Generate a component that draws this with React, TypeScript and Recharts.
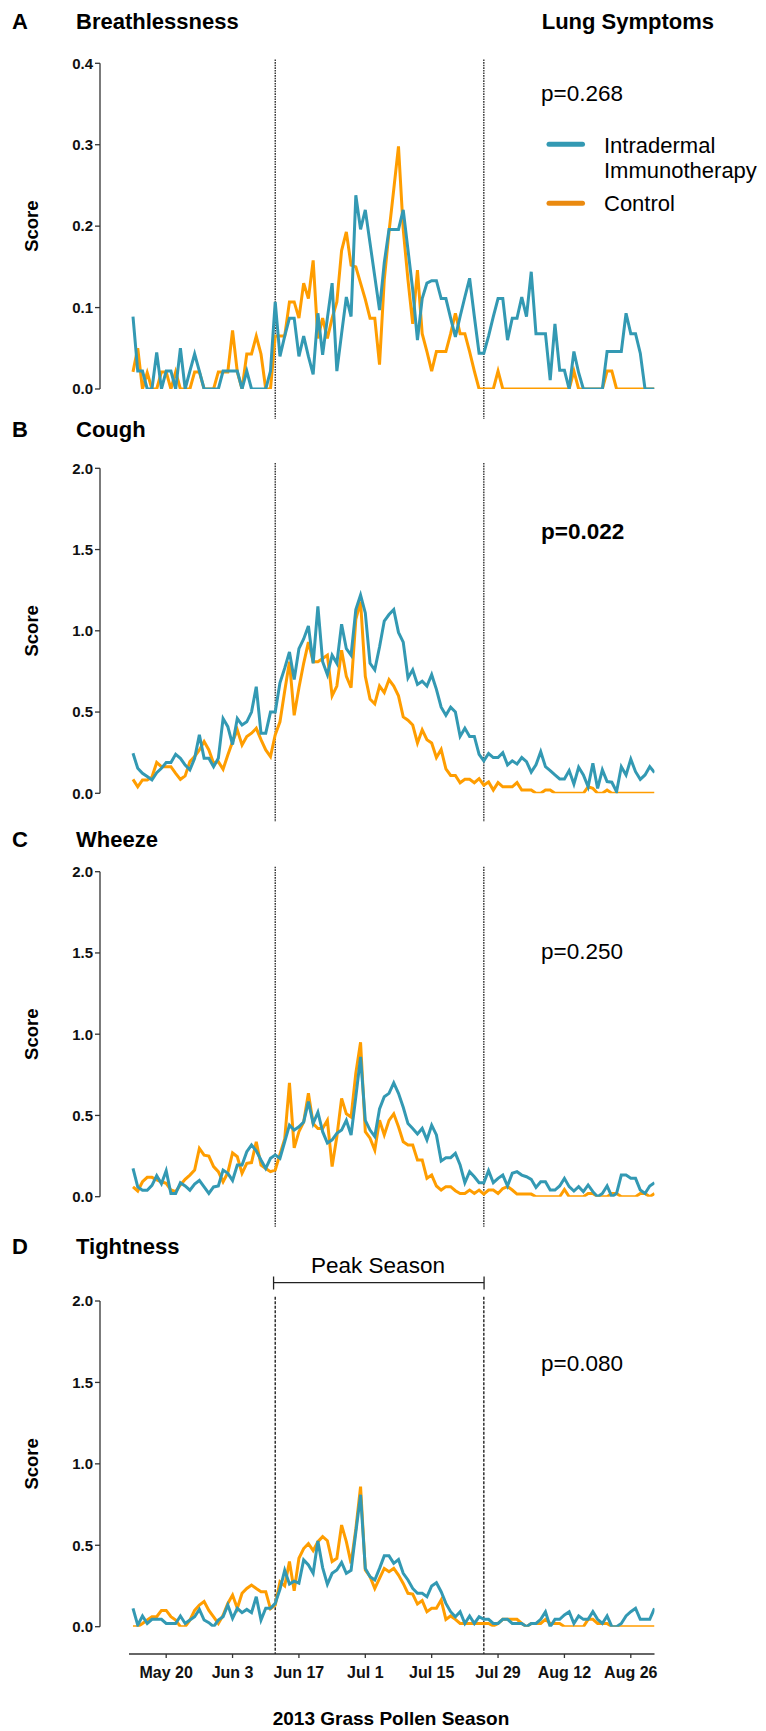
import React from 'react';
import { LineChart, Line, XAxis, YAxis, ReferenceLine } from 'recharts';

const FONT = '"Liberation Sans", Arial, Helvetica, sans-serif';
const W = 766;
const H = 1731;

// x = day index since May 13, 2013 (0 .. 110 = Aug 31)
const PLOT_LEFT = 100;
const PLOT_RIGHT = 654.5;
const X_MIN = -6.96;
const X_MAX = 110;
const X_AXIS_START = -0.84;
const X_AXIS_Y = 1654;

const SERIES_NAMES = ['Intradermal Immunotherapy', 'Control'];
const TEAL = '#3399B3';
const ORANGE = '#FF9D00';
const TEAL_LEGEND = '#3399B3';
const ORANGE_LEGEND = '#EA8A10';

const xTickDays = [7, 21, 35, 49, 63, 77, 91, 105];
const xTickLabels = ['May 20', 'Jun 3', 'Jun 17', 'Jul 1', 'Jul 15', 'Jul 29', 'Aug 12', 'Aug 26'];
const peakStartDay = 30;
const peakEndDay = 74;

const breathIntradermal = [
  0.089, 0.022, 0.022, 0, 0, 0.045, 0, 0.022, 0.022, 0,
  0.05, 0, 0.022, 0.043, 0.022, 0, 0, 0, 0, 0.022,
  0.022, 0.022, 0.022, 0, 0.022, 0, 0, 0, 0, 0.022,
  0.107, 0.04, 0.065, 0.087, 0.087, 0.04, 0.065, 0.04, 0.018, 0.093,
  0.042, 0.087, 0.13, 0.022, 0.068, 0.113, 0.089, 0.238, 0.196, 0.22,
  0.179, 0.138, 0.097, 0.155, 0.196, 0.196, 0.196, 0.22, 0.171, 0.122,
  0.06, 0.111, 0.13, 0.133, 0.133, 0.111, 0.111, 0.087, 0.064, 0.089,
  0.113, 0.136, 0.089, 0.044, 0.044, 0.065, 0.089, 0.111, 0.111, 0.06,
  0.087, 0.087, 0.113, 0.089, 0.144, 0.068, 0.068, 0.068, 0.011, 0.08,
  0.023, 0.023, 0, 0.046, 0.02, 0, 0, 0, 0, 0,
  0.046, 0.046, 0.046, 0.046, 0.093, 0.068, 0.068, 0.044, 0, 0,
  0,
];
const breathControl = [
  0.021, 0.05, 0, 0.02, 0, 0, 0.021, 0.021, 0, 0.021,
  0, 0, 0, 0.021, 0.021, 0, 0, 0, 0.021, 0.021,
  0.021, 0.072, 0.021, 0, 0.043, 0.043, 0.065, 0.043, 0, 0,
  0.065, 0.065, 0.065, 0.107, 0.107, 0.087, 0.13, 0.111, 0.158, 0.062,
  0.087, 0.062, 0.087, 0.107, 0.17, 0.193, 0.152, 0.15, 0.13, 0.11,
  0.087, 0.087, 0.03, 0.134, 0.193, 0.245, 0.298, 0.196, 0.134, 0.08,
  0.146, 0.068, 0.046, 0.022, 0.046, 0.046, 0.046, 0.068, 0.093, 0.068,
  0.068, 0.046, 0.022, 0, 0, 0, 0, 0.022, 0, 0,
  0, 0, 0, 0, 0, 0, 0, 0, 0, 0,
  0, 0, 0, 0.022, 0, 0, 0, 0, 0, 0,
  0.022, 0.022, 0, 0, 0, 0, 0, 0, 0, 0,
  0,
];

const coughIntradermal = [
  0.246, 0.154, 0.123, 0.103, 0.082, 0.127, 0.154, 0.189, 0.189, 0.24,
  0.215, 0.174, 0.144, 0.215, 0.36, 0.215, 0.215, 0.164, 0.215, 0.46,
  0.41, 0.3, 0.46, 0.42, 0.44, 0.5, 0.656, 0.37, 0.37, 0.5,
  0.5, 0.68, 0.77, 0.87, 0.7, 0.89, 0.95, 1.03, 0.8, 1.15,
  0.81, 0.73, 0.85, 0.8, 1.04, 0.89, 0.85, 1.13, 1.22, 1.11,
  0.8, 0.76, 0.9, 1.06, 1.1, 1.13, 0.99, 0.93, 0.71, 0.76,
  0.67, 0.69, 0.66, 0.73, 0.64, 0.53, 0.48, 0.53, 0.5, 0.35,
  0.4, 0.35, 0.35, 0.24, 0.2, 0.245, 0.22, 0.22, 0.25, 0.175,
  0.2, 0.18, 0.22, 0.195, 0.13, 0.175, 0.256, 0.164, 0.14, 0.113,
  0.088, 0.088, 0.14, 0.057, 0.16, 0.113, 0.04, 0.185, 0.03, 0.144,
  0.072, 0.068, 0.01, 0.164, 0.113, 0.21, 0.133, 0.086, 0.113, 0.164,
  0.127,
];
const coughControl = [
  0.086, 0.04, 0.082, 0.082, 0.1, 0.19, 0.164, 0.164, 0.164, 0.123,
  0.086, 0.107, 0.195, 0.226, 0.267, 0.318, 0.267, 0.185, 0.195, 0.148,
  0.236, 0.318, 0.39, 0.297, 0.35, 0.37, 0.4, 0.33, 0.267, 0.226,
  0.36, 0.44, 0.63, 0.81, 0.48, 0.65, 0.8, 0.93, 0.81, 0.81,
  0.83, 0.85, 0.6, 0.66, 0.88, 0.72, 0.65, 1.07, 1.18, 0.72,
  0.58, 0.55, 0.66, 0.62, 0.7, 0.66, 0.6, 0.47, 0.45, 0.42,
  0.31, 0.39, 0.33, 0.31, 0.22, 0.27, 0.15, 0.11, 0.11, 0.065,
  0.086, 0.086, 0.065, 0.09, 0.05, 0.07, 0.02, 0.066, 0.04, 0.04,
  0.04, 0.066, 0.02, 0.02, 0.02, 0, 0, 0.02, 0.02, 0,
  0, 0, 0, 0, 0, 0, 0.04, 0.03, 0, 0,
  0.02, 0, 0, 0, 0, 0, 0, 0, 0, 0,
  0,
];

const wheezeIntradermal = [
  0.174, 0.06, 0.04, 0.04, 0.07, 0.13, 0.08, 0.16, 0.02, 0.02,
  0.086, 0.066, 0.04, 0.078, 0.1, 0.06, 0.02, 0.06, 0.066, 0.164,
  0.144, 0.1, 0.195, 0.195, 0.277, 0.318, 0.283, 0.226, 0.174, 0.236,
  0.256, 0.236, 0.338, 0.44, 0.41, 0.43, 0.46, 0.585, 0.45, 0.52,
  0.4, 0.33, 0.35, 0.39, 0.41, 0.47, 0.38, 0.615, 0.86, 0.47,
  0.41, 0.37, 0.54, 0.615, 0.636, 0.7, 0.636, 0.55, 0.45, 0.42,
  0.386, 0.42, 0.35, 0.44, 0.38, 0.22, 0.24, 0.24, 0.267, 0.195,
  0.086, 0.154, 0.123, 0.086, 0.086, 0.16, 0.086, 0.113, 0.133, 0.066,
  0.144, 0.154, 0.133, 0.123, 0.107, 0.057, 0.092, 0.092, 0.041, 0.041,
  0.066, 0.113, 0.062, 0.035, 0.062, 0.031, 0.072, 0.031, 0, 0.02,
  0.066, 0, 0.02, 0.133, 0.133, 0.113, 0.113, 0.041, 0.02, 0.066,
  0.086,
];
const wheezeControl = [
  0.06, 0.035, 0.092, 0.119, 0.119, 0.103, 0.092, 0.082, 0.041, 0.031,
  0.072, 0.107, 0.133, 0.164, 0.297, 0.256, 0.25, 0.185, 0.154, 0.092,
  0.148, 0.27, 0.246, 0.144, 0.205, 0.21, 0.338, 0.195, 0.174, 0.154,
  0.164, 0.262, 0.355, 0.7, 0.3, 0.4, 0.46, 0.636, 0.45, 0.42,
  0.42, 0.47, 0.185, 0.37, 0.605, 0.51, 0.49, 0.76, 0.95, 0.4,
  0.36, 0.287, 0.47, 0.38, 0.47, 0.51, 0.43, 0.338, 0.318, 0.318,
  0.226, 0.226, 0.113, 0.133, 0.066, 0.041, 0.062, 0.062, 0.037, 0.02,
  0.02, 0.041, 0.02, 0.041, 0.016, 0.041, 0.041, 0.02, 0.05, 0.062,
  0.041, 0.016, 0.016, 0.016, 0.016, 0, 0, 0, 0, 0,
  0, 0.045, 0, 0, 0, 0, 0.02, 0.02, 0, 0,
  0, 0.02, 0.02, 0, 0, 0, 0, 0.02, 0.02, 0,
  0.02,
];

const tightIntradermal = [
  0.113, 0.01, 0.066, 0.02, 0.045, 0.045, 0.045, 0.02, 0.02, 0.02,
  0.066, 0.02, 0.041, 0.061, 0.106, 0.041, 0.025, 0, 0.041, 0.061,
  0.133, 0.051, 0.113, 0.086, 0.106, 0.086, 0.184, 0.041, 0.113, 0.113,
  0.143, 0.23, 0.346, 0.262, 0.28, 0.268, 0.41, 0.379, 0.328, 0.526,
  0.363, 0.26, 0.328, 0.348, 0.395, 0.328, 0.346, 0.58, 0.81, 0.358,
  0.307, 0.287, 0.358, 0.435, 0.435, 0.389, 0.412, 0.328, 0.287, 0.235,
  0.205, 0.205, 0.184, 0.25, 0.27, 0.215, 0.143, 0.092, 0.061, 0.092,
  0.02, 0.066, 0.02, 0.061, 0.045, 0.045, 0.02, 0.02, 0.045, 0.045,
  0.02, 0.02, 0.02, 0, 0.02, 0.02, 0.045, 0.092, 0, 0.045,
  0.045, 0.072, 0.092, 0.02, 0.066, 0.045, 0.045, 0.092, 0.045, 0.02,
  0.066, 0, 0, 0.02, 0.066, 0.092, 0.113, 0.045, 0.045, 0.045,
  0.113,
];
const tightControl = [
  0, 0, 0.02, 0.041, 0.061, 0.061, 0.1, 0.1, 0.061, 0.041,
  0, 0, 0.04, 0.1, 0.133, 0.155, 0.1, 0.06, 0.02, 0.07,
  0.143, 0.194, 0.113, 0.205, 0.235, 0.256, 0.235, 0.215, 0.215, 0.11,
  0.133, 0.276, 0.25, 0.4, 0.221, 0.42, 0.48, 0.51, 0.467, 0.522,
  0.553, 0.528, 0.4, 0.42, 0.624, 0.522, 0.389, 0.6, 0.86, 0.348,
  0.307, 0.235, 0.297, 0.358, 0.338, 0.358, 0.317, 0.266, 0.205, 0.2,
  0.139, 0.16, 0.092, 0.113, 0.113, 0.164, 0.045, 0.066, 0.045, 0.02,
  0.02, 0.02, 0.02, 0.02, 0.02, 0.02, 0.004, 0.02, 0.045, 0.045,
  0.045, 0.045, 0.02, 0, 0.02, 0.02, 0.02, 0.045, 0.02, 0.02,
  0.02, 0, 0, 0, 0, 0, 0.045, 0.045, 0.02, 0.02,
  0.02, 0, 0, 0, 0, 0, 0, 0, 0, 0,
  0,
];

const days = breathIntradermal.map((_, i) => i);

type PanelCfg = {
  letter: string;
  title: string;
  teal: number[];
  orange: number[];
  yMax: number;
  ticks: number[];
  top: number;
  bottom: number;
  titleY: number;
  p: string;
  pBold: boolean;
  pY: number;
  dotTop: number;
  dotBottom: number;
};

const panels: PanelCfg[] = [
  { letter: 'A', title: 'Breathlessness', teal: breathIntradermal, orange: breathControl, yMax: 0.4, ticks: [0, 0.1, 0.2, 0.3, 0.4], top: 63.3, bottom: 389, titleY: 29.3, p: 'p=0.268', pBold: false, pY: 101, dotTop: 59.5, dotBottom: 419 },
  { letter: 'B', title: 'Cough', teal: coughIntradermal, orange: coughControl, yMax: 2, ticks: [0, 0.5, 1, 1.5, 2], top: 468.3, bottom: 793.3, titleY: 436.7, p: 'p=0.022', pBold: true, pY: 538.8, dotTop: 463, dotBottom: 822 },
  { letter: 'C', title: 'Wheeze', teal: wheezeIntradermal, orange: wheezeControl, yMax: 2, ticks: [0, 0.5, 1, 1.5, 2], top: 871.7, bottom: 1196.7, titleY: 846.7, p: 'p=0.250', pBold: false, pY: 959.3, dotTop: 866.7, dotBottom: 1226.7 },
  { letter: 'D', title: 'Tightness', teal: tightIntradermal, orange: tightControl, yMax: 2, ticks: [0, 0.5, 1, 1.5, 2], top: 1301, bottom: 1626.7, titleY: 1254, p: 'p=0.080', pBold: false, pY: 1371.3, dotTop: 1296.7, dotBottom: 1654 },
];

const XTick = (props: any) => {
  const { x, payload } = props;
  const idx = xTickDays.indexOf(payload.value);
  return (
    <g>
      <line x1={x} x2={x} y1={X_AXIS_Y} y2={X_AXIS_Y + 4} stroke="#333" strokeWidth={1.3} />
      <text x={x} y={1678.3} textAnchor="middle" fontSize={16} fontWeight={700} fontFamily={FONT} fill="#111">
        {idx >= 0 ? xTickLabels[idx] : ''}
      </text>
    </g>
  );
};

function Panel({ cfg, isLast }: { cfg: PanelCfg; isLast: boolean }) {
  const data = days.map((d, i) => ({ day: d, teal: cfg.teal[i], orange: cfg.orange[i] }));
  const v = (px: number) => (cfg.yMax * (cfg.bottom - px)) / (cfg.bottom - cfg.top);
  const xAxisH = isLast ? 30 : 0;
  const dash = isLast ? '3 1.5' : '1.6 1';
  const dashW = isLast ? 1.4 : 1.3;
  return (
    <div style={{ position: 'absolute', left: 0, top: 0 }}>
      <LineChart
        width={W}
        height={H}
        data={data}
        margin={{ top: cfg.top, bottom: H - cfg.bottom - xAxisH, left: 0, right: W - PLOT_RIGHT }}
      >
        <XAxis
          type="number"
          dataKey="day"
          domain={[X_MIN, X_MAX]}
          allowDataOverflow
          hide={!isLast}
          height={xAxisH}
          ticks={xTickDays}
          interval={0}
          axisLine={false}
          tickLine={false}
          tickSize={0}
          tickMargin={0}
          tick={<XTick />}
        />
        <YAxis
          type="number"
          domain={[0, cfg.yMax]}
          ticks={cfg.ticks}
          width={PLOT_LEFT}
          allowDataOverflow
          tickSize={5}
          tickMargin={2}
          tickFormatter={(t: number) => t.toFixed(1)}
          axisLine={{ stroke: '#333', strokeWidth: 1.3 }}
          tickLine={{ stroke: '#333', strokeWidth: 1.3 }}
          tick={{ fill: '#111', fontSize: 15, fontWeight: 700, fontFamily: FONT }}
        />
        <ReferenceLine
          segment={[{ x: peakStartDay, y: v(cfg.dotTop) }, { x: peakStartDay, y: v(cfg.dotBottom) }]}
          ifOverflow="visible"
          stroke="#222"
          strokeWidth={dashW}
          strokeDasharray={dash}
        />
        <ReferenceLine
          segment={[{ x: peakEndDay, y: v(cfg.dotTop) }, { x: peakEndDay, y: v(cfg.dotBottom) }]}
          ifOverflow="visible"
          stroke="#222"
          strokeWidth={dashW}
          strokeDasharray={dash}
        />
        {isLast && (
          <ReferenceLine
            segment={[{ x: X_AXIS_START, y: v(X_AXIS_Y) }, { x: X_MAX, y: v(X_AXIS_Y) }]}
            ifOverflow="visible"
            stroke="#333"
            strokeWidth={1.3}
          />
        )}
        {isLast && (
          <ReferenceLine
            segment={[{ x: peakStartDay - 0.35, y: v(1282.7) }, { x: peakEndDay + 0.05, y: v(1282.7) }]}
            ifOverflow="visible"
            stroke="#222"
            strokeWidth={1.3}
          />
        )}
        {isLast && (
          <ReferenceLine
            segment={[{ x: peakStartDay - 0.35, y: v(1276.5) }, { x: peakStartDay - 0.35, y: v(1289.5) }]}
            ifOverflow="visible"
            stroke="#222"
            strokeWidth={1.3}
          />
        )}
        {isLast && (
          <ReferenceLine
            segment={[{ x: peakEndDay + 0.05, y: v(1276.5) }, { x: peakEndDay + 0.05, y: v(1289.5) }]}
            ifOverflow="visible"
            stroke="#222"
            strokeWidth={1.3}
          />
        )}
        <Line
          type="linear"
          dataKey="orange"
          name={SERIES_NAMES[1]}
          stroke={ORANGE}
          strokeWidth={3}
          dot={false}
          activeDot={false}
          isAnimationActive={false}
        />
        <Line
          type="linear"
          dataKey="teal"
          name={SERIES_NAMES[0]}
          stroke={TEAL}
          strokeWidth={3}
          dot={false}
          activeDot={false}
          isAnimationActive={false}
        />
      </LineChart>
    </div>
  );
}

function Overlay() {
  const legendLines = SERIES_NAMES[0].split(' ');
  return (
    <svg
      width={W}
      height={H}
      style={{ position: 'absolute', left: 0, top: 0, pointerEvents: 'none' }}
      fontFamily={FONT}
    >
      {panels.map((p) => {
        const cy = (p.top + p.bottom) / 2;
        return (
          <g key={p.letter}>
            <text x={12} y={p.titleY} fontSize={22} fontWeight={700} fill="#000">{p.letter}</text>
            <text x={76} y={p.titleY} fontSize={22} fontWeight={700} fill="#000">{p.title}</text>
            <text
              x={38.5}
              y={cy}
              fontSize={18.5}
              fontWeight={700}
              fill="#000"
              textAnchor="middle"
              transform={`rotate(-90, 38.5, ${cy})`}
            >
              Score
            </text>
            <text x={541} y={p.pY} fontSize={22.5} fontWeight={p.pBold ? 700 : 400} fill="#000">{p.p}</text>
          </g>
        );
      })}
      <text x={541.7} y={29.3} fontSize={22} fontWeight={700} fill="#000">Lung Symptoms</text>
      <line x1={549} x2={582.5} y1={144.3} y2={144.3} stroke={TEAL_LEGEND} strokeWidth={5} strokeLinecap="round" />
      <line x1={549} x2={582.5} y1={203.3} y2={203.3} stroke={ORANGE_LEGEND} strokeWidth={5} strokeLinecap="round" />
      <text x={604} y={153.3} fontSize={22} fill="#000">{legendLines[0]}</text>
      <text x={604} y={178.3} fontSize={22} fill="#000">{legendLines[1]}</text>
      <text x={604} y={210.7} fontSize={22} fill="#000">{SERIES_NAMES[1]}</text>
      <text x={378} y={1273.3} fontSize={22.5} textAnchor="middle" fill="#000">Peak Season</text>
      <text x={391} y={1725} fontSize={19} fontWeight={700} textAnchor="middle" fill="#000">2013 Grass Pollen Season</text>
    </svg>
  );
}

export default function App() {
  return (
    <div style={{ position: 'absolute', left: 0, top: 0, width: W, height: H, background: '#fff', overflow: 'hidden' }}>
      {panels.map((p, i) => (
        <Panel key={p.letter} cfg={p} isLast={i === panels.length - 1} />
      ))}
      <Overlay />
    </div>
  );
}
